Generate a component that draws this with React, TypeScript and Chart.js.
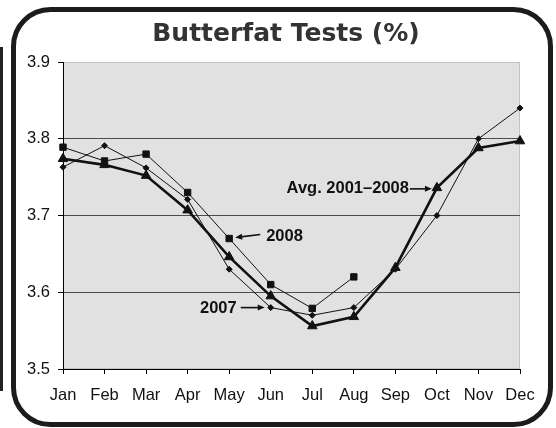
import React, { useEffect, useRef } from "react";
import { Chart, registerables } from "chart.js";

Chart.register(...registerables);

const months = ["Jan", "Feb", "Mar", "Apr", "May", "Jun", "Jul", "Aug", "Sep", "Oct", "Nov", "Dec"];
const avg20012008 = [3.774, 3.766, 3.752, 3.707, 3.646, 3.595, 3.556, 3.568, 3.632, 3.736, 3.788, 3.797];
const year2007 = [3.763, 3.791, 3.762, 3.721, 3.63, 3.58, 3.57, 3.58, 3.63, 3.7, 3.8, 3.84];
const year2008 = [3.789, 3.771, 3.78, 3.73, 3.67, 3.61, 3.579, 3.62, null, null, null, null];
const yTicks = [3.5, 3.6, 3.7, 3.8, 3.9];

const TITLE = "Butterfat Tests (%)";
const LABEL_AVG = "Avg. 2001\u20132008";
const LABEL_2008 = "2008";
const LABEL_2007 = "2007";

function arrow(ctx: CanvasRenderingContext2D, x1: number, y1: number, x2: number, y2: number) {
  const ang = Math.atan2(y2 - y1, x2 - x1);
  const hl = 7;
  const hw = 3;
  ctx.save();
  ctx.strokeStyle = "#111";
  ctx.fillStyle = "#111";
  ctx.lineWidth = 1.6;
  ctx.beginPath();
  ctx.moveTo(x1, y1);
  ctx.lineTo(x2 - Math.cos(ang) * hl * 0.8, y2 - Math.sin(ang) * hl * 0.8);
  ctx.stroke();
  ctx.beginPath();
  ctx.moveTo(x2, y2);
  ctx.lineTo(x2 - Math.cos(ang) * hl - Math.sin(ang) * hw, y2 - Math.sin(ang) * hl + Math.cos(ang) * hw);
  ctx.lineTo(x2 - Math.cos(ang) * hl + Math.sin(ang) * hw, y2 - Math.sin(ang) * hl - Math.cos(ang) * hw);
  ctx.closePath();
  ctx.fill();
  ctx.restore();
}

const decorPlugin = {
  id: "decor",
  beforeDraw(chart: any) {
    const ctx = chart.ctx as CanvasRenderingContext2D;
    const a = chart.chartArea;
    ctx.save();
    ctx.fillStyle = "#ffffff";
    ctx.fillRect(0, 0, chart.width, chart.height);
    // outer rounded frame
    ctx.strokeStyle = "#1c1c1c";
    ctx.lineWidth = 5;
    ctx.beginPath();
    (ctx as any).roundRect(13.5, 9.5, 537, 415, 37);
    ctx.stroke();
    // left edge bar
    ctx.fillStyle = "#222";
    ctx.fillRect(0, 47, 3, 344);
    // plot area
    ctx.fillStyle = "#e1e1e1";
    ctx.fillRect(a.left, a.top, a.right - a.left, a.bottom - a.top);
    ctx.strokeStyle = "#c4c4c4";
    ctx.lineWidth = 1;
    ctx.strokeRect(a.left + 0.5, a.top + 0.5, a.right - a.left - 1, a.bottom - a.top - 1);
    ctx.restore();
  },
  afterDraw(chart: any) {
    const ctx = chart.ctx as CanvasRenderingContext2D;
    const xs = chart.scales.x;
    const ys = chart.scales.y;
    ctx.save();
    // title
    ctx.fillStyle = "#333";
    ctx.font = "bold 25px 'DejaVu Sans'";
    ctx.textAlign = "center";
    ctx.textBaseline = "middle";
    ctx.fillText(TITLE, 286, 34);

    ctx.fillStyle = "#111";
    ctx.font = "bold 16.5px 'Liberation Sans'";
    ctx.textBaseline = "middle";

    // Avg annotation -> Oct
    const ox = xs.getPixelForValue(9);
    const oy = ys.getPixelForValue(avg20012008[9]);
    ctx.textAlign = "right";
    ctx.fillText(LABEL_AVG, ox - 28, oy + 1);
    arrow(ctx, ox - 27, oy + 1, ox - 5, oy + 1);

    // 2008 annotation -> May
    const mx = xs.getPixelForValue(4);
    const my = ys.getPixelForValue(year2008[4] as number);
    ctx.textAlign = "left";
    ctx.fillText(LABEL_2008, mx + 37, my - 2);
    arrow(ctx, mx + 31, my - 4, mx + 6, my - 1);

    // 2007 annotation -> Jun
    const jx = xs.getPixelForValue(5);
    const jy = ys.getPixelForValue(year2007[5]);
    ctx.textAlign = "right";
    ctx.fillText(LABEL_2007, jx - 34, jy + 1);
    arrow(ctx, jx - 30, jy, jx - 6, jy);
    ctx.restore();
  },
};

export default function App() {
  const ref = useRef<HTMLCanvasElement | null>(null);
  useEffect(() => {
    if (!ref.current) return;
    const chart = new Chart(ref.current, {
      type: "line",
      data: {
        labels: months,
        datasets: [
          {
            label: "Avg. 2001-2008",
            data: avg20012008,
            borderColor: "#111",
            backgroundColor: "#111",
            borderWidth: 2.6,
            pointStyle: "triangle",
            pointRadius: 5.5,
            pointBorderWidth: 1,
            tension: 0,
          },
          {
            label: "2008",
            data: year2008,
            borderColor: "#111",
            backgroundColor: "#111",
            borderWidth: 1,
            pointStyle: "rect",
            pointRadius: 4.5,
            pointBorderWidth: 1,
            tension: 0,
          },
          {
            label: "2007",
            data: year2007,
            borderColor: "#111",
            backgroundColor: "#111",
            borderWidth: 1,
            pointStyle: "rectRot",
            pointRadius: 3,
            pointBorderWidth: 1,
            tension: 0,
          },
        ],
      },
      options: {
        animation: false,
        responsive: false,
        maintainAspectRatio: false,
        devicePixelRatio: 1,
        layout: { padding: { left: 0, right: 36, top: 62, bottom: 0 } },
        plugins: {
          legend: { display: false },
          title: { display: false },
          tooltip: { enabled: false },
        },
        scales: {
          x: {
            type: "category",
            offset: false,
            grid: { drawOnChartArea: false, drawTicks: true, tickLength: 5, tickColor: "#000" },
            border: { color: "#000", width: 1 },
            ticks: {
              color: "#111",
              font: { family: "'Liberation Sans'", size: 16.5 },
              padding: 12,
              maxRotation: 0,
              autoSkip: false,
            },
            afterFit: (s: any) => {
              s.height = 59;
            },
          },
          y: {
            min: 3.5,
            max: 3.9,
            afterBuildTicks: (s: any) => {
              s.ticks = yTicks.map((v) => ({ value: v }));
            },
            ticks: {
              color: "#111",
              font: { family: "'Liberation Sans'", size: 16.5 },
              padding: 8,
              callback: (v: any) => Number(v).toFixed(1),
            },
            grid: {
              color: (c: any) => {
                const v = c.tick ? c.tick.value : 0;
                if (Math.abs(v - 3.9) < 1e-6) return "#c4c4c4";
                if (Math.abs(v - 3.5) < 1e-6) return "#000";
                return "#4d4d4d";
              },
              tickColor: "#000",
              tickLength: 5,
              lineWidth: 1,
            },
            border: { color: "#000", width: 1 },
            afterFit: (s: any) => {
              s.width = 63;
            },
          },
        },
      },
      plugins: [decorPlugin],
    } as any);
    return () => chart.destroy();
  }, []);
  return (
    <div style={{ position: "fixed", left: 0, top: 0, width: 556, height: 428 }}>
      <canvas ref={ref} width={556} height={428} style={{ display: "block", width: 556, height: 428 }} />
    </div>
  );
}
